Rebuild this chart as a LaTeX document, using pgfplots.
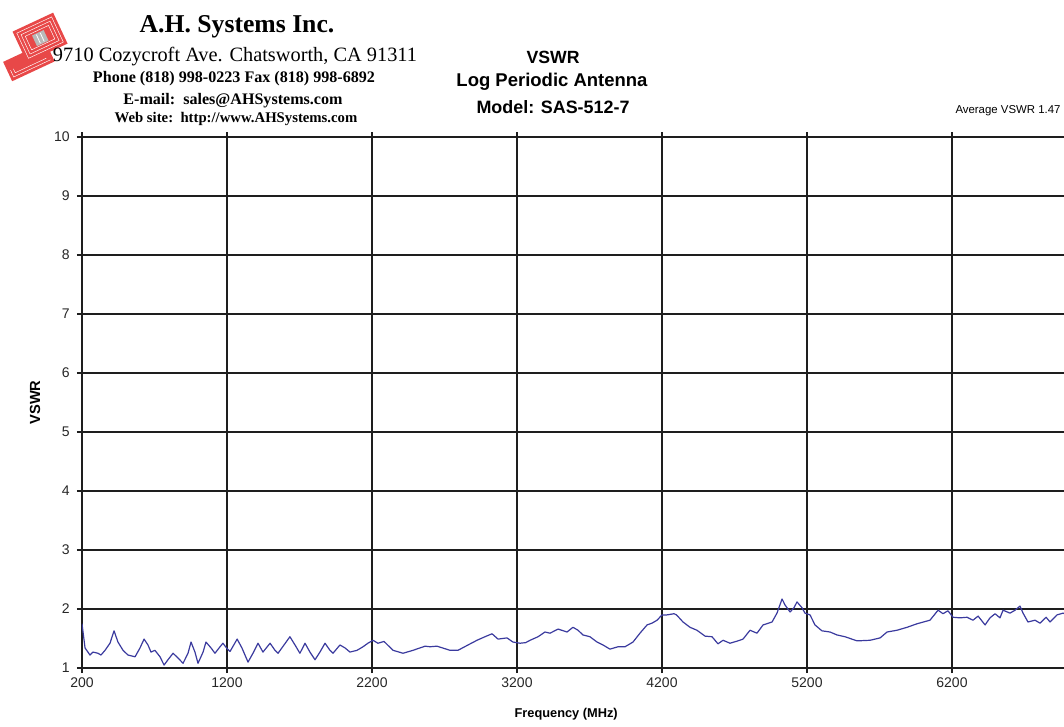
\documentclass[border=0pt]{standalone}
\usepackage{fontspec}
\setmainfont{Liberation Sans}
\newfontfamily\hdrserif{Liberation Serif}
\usepackage{pgfplots}
\pgfplotsset{compat=1.18}
\definecolor{curve}{RGB}{58,58,158}
\definecolor{logored}{RGB}{232,72,72}
\definecolor{gridc}{RGB}{30,30,30}

\begin{document}
\begin{tikzpicture}
\begin{axis}[
  at={(61.5pt,-501pt)}, anchor=south west,
  scale only axis, width=761.25pt, height=398.25pt,
  xmin=200, xmax=7200, ymin=1, ymax=10,
  xtick={200,1200,...,6200}, ytick={1,2,...,10},
  grid=major, major grid style={gridc, line width=0.9pt},
  axis line style={gridc, line width=0.9pt},
  tick align=outside, major tick length=3.75pt,
  tick style={gridc, line width=0.9pt},
  /pgf/number format/assume math mode=true,
  /pgf/number format/1000 sep={},
  ticklabel style={font=\fontsize{10.5}{12}\selectfont, text=black!85},
  yticklabel style={xshift=-2pt},
  xlabel={\bfseries Frequency (MHz)},
  xlabel style={at={(axis description cs:0.477,0)}, anchor=center, yshift=-34.5pt, font=\fontsize{9.6}{11}\selectfont},
  ylabel={\bfseries VSWR},
  ylabel style={at={(axis description cs:0,0.5)}, anchor=center, yshift=35.25pt, font=\fontsize{11}{13}\selectfont},
  clip=true,
]
\addplot[curve, line width=0.9pt, line join=round] coordinates {
(200,1.75) (221,1.34) (255,1.22) (276,1.27) (310,1.25) (331,1.22) (359,1.30) (393,1.42)
(421,1.63) (448,1.44) (483,1.30) (517,1.22) (566,1.19) (600,1.34) (628,1.49) (655,1.39)
(676,1.27) (703,1.30) (738,1.19) (766,1.05) (793,1.14) (828,1.25) (862,1.17) (897,1.08)
(931,1.25) (952,1.44) (979,1.27) (1000,1.08) (1035,1.27) (1055,1.44) (1090,1.34) (1117,1.25)
(1152,1.36) (1172,1.42) (1200,1.33) (1221,1.28) (1270,1.49) (1303,1.34) (1345,1.10) (1379,1.25)
(1414,1.42) (1448,1.27) (1497,1.42) (1531,1.30) (1552,1.25) (1593,1.39) (1634,1.53) (1669,1.39)
(1703,1.25) (1738,1.42) (1772,1.27) (1807,1.14) (1841,1.27) (1876,1.42) (1910,1.30) (1931,1.25)
(1979,1.39) (2014,1.34) (2048,1.27) (2097,1.30) (2138,1.36) (2172,1.42) (2207,1.47) (2241,1.42)
(2283,1.45) (2345,1.30) (2414,1.25) (2483,1.30) (2566,1.37) (2600,1.36) (2648,1.37) (2738,1.30)
(2793,1.30) (2862,1.39) (2924,1.47) (2979,1.53) (3028,1.58) (3069,1.49) (3131,1.51) (3172,1.44)
(3221,1.42) (3260,1.43) (3290,1.47) (3345,1.53) (3393,1.61) (3428,1.59) (3483,1.66) (3545,1.61)
(3586,1.69) (3621,1.64) (3655,1.56) (3703,1.53) (3752,1.44) (3793,1.39) (3841,1.32) (3897,1.36)
(3945,1.36) (4000,1.44) (4048,1.59) (4097,1.73) (4131,1.76) (4166,1.81) (4200,1.90) (4234,1.90)
(4283,1.92) (4300,1.90) (4345,1.78) (4393,1.69) (4441,1.64) (4497,1.54) (4545,1.53) (4586,1.41)
(4621,1.47) (4669,1.42) (4724,1.46) (4759,1.49) (4807,1.64) (4855,1.59) (4897,1.73) (4959,1.78)
(4993,1.93) (5028,2.17) (5048,2.07) (5083,1.95) (5110,2.02) (5131,2.12) (5166,2.02) (5186,1.93)
(5221,1.90) (5255,1.73) (5303,1.63) (5359,1.61) (5407,1.56) (5462,1.53) (5545,1.46) (5635,1.47)
(5704,1.51) (5752,1.61) (5821,1.64) (5890,1.69) (5959,1.75) (6048,1.81) (6104,1.98) (6138,1.92)
(6172,1.97) (6207,1.86) (6255,1.85) (6304,1.86) (6345,1.81) (6380,1.88) (6428,1.73) (6462,1.85)
(6497,1.92) (6531,1.85) (6552,1.98) (6600,1.93) (6635,1.98) (6669,2.05) (6690,1.93) (6724,1.78)
(6773,1.81) (6807,1.76) (6849,1.86) (6876,1.78) (6924,1.90) (6966,1.93) (7000,1.90)
};
\end{axis}

% logo
\begin{scope}[shift={(30pt,-30pt)}, rotate=25, x=0.8pt, y=-0.8pt]
  \fill[logored] (-20,-18) rectangle (22,14);
  \fill[logored] (-40,4) rectangle (4,24);
  \draw[white, line width=0.35pt] (-17,-15) rectangle (19,11);
  \draw[white, line width=0.35pt] (-14,-12) rectangle (16,8);
  \draw[white, line width=0.35pt] (-11,-9) rectangle (13,5);
  \draw[white, line width=0.35pt] (-37,14) -- (-37,21) -- (1,21);
  \draw[white, line width=0.35pt] (-34,14) -- (-34,18) -- (-2,18);
  \fill[gray!55] (-5,-7) rectangle (7,4);
  \draw[white, line width=0.6pt] (-1,-6) -- (-1,3) (3,-6) -- (3,3);
\end{scope}

\begin{scope}[x=0.75pt, y=-0.75pt]
  % header
  \node[inner sep=0pt] at (237,27) {\resizebox{146pt}{!}{\hdrserif\bfseries A.H. Systems Inc.}};
  \node[inner sep=0pt] at (235,57) {\resizebox{273pt}{!}{\hdrserif 9710 Cozycroft Ave. Chatsworth, CA 91311}};
  \node[inner sep=0pt] at (234,79) {\resizebox{211.5pt}{!}{\hdrserif\bfseries Phone (818) 998-0223 Fax (818) 998-6892}};
  \node[inner sep=0pt] at (233,101) {\resizebox{164.25pt}{!}{\hdrserif\bfseries E-mail:\ \ sales@AHSystems.com}};
  \node[inner sep=0pt] at (236,119) {\resizebox{182pt}{!}{\hdrserif\bfseries Web site:\ \ http://www.AHSystems.com}};
  % title
  \node[inner sep=0pt] at (553,57) {\resizebox{39.75pt}{!}{\bfseries VSWR}};
  \node[inner sep=0pt] at (552,82) {\resizebox{143.25pt}{!}{\bfseries Log Periodic Antenna}};
  \node[inner sep=0pt] at (553,107) {\resizebox{114.75pt}{!}{\bfseries Model: SAS-512-7}};
  \node[inner sep=0pt] at (1008,111) {\resizebox{78.75pt}{!}{Average VSWR 1.47}};
\end{scope}

\pgfresetboundingbox
\path[use as bounding box] (0,0) rectangle (798pt,-545.25pt);
\end{tikzpicture}
\end{document}
